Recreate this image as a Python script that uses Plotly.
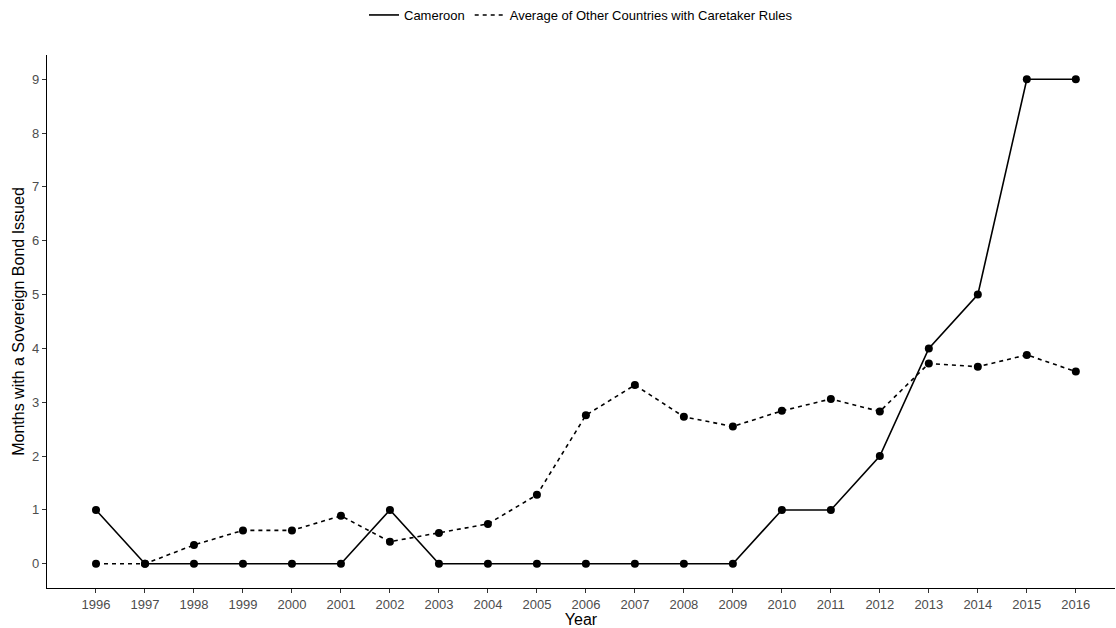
import plotly.graph_objects as go

years = list(range(1996, 2017))
cameroon = [1, 0, 0, 0, 0, 0, 1, 0, 0, 0, 0, 0, 0, 0, 1, 1, 2, 4, 5, 9, 9]
others = [0, 0, 0.35, 0.62, 0.62, 0.89, 0.41, 0.57, 0.74, 1.28, 2.76, 3.32,
          2.73, 2.55, 2.84, 3.06, 2.83, 3.72, 3.66, 3.88, 3.57]
y_ticks = list(range(0, 10))

names = ["Cameroon", "Average of Other Countries with Caretaker Rules"]
dashes = ["solid", "4px,4px"]

fig = go.Figure()
for name, vals, dash in zip(names, [cameroon, others], dashes):
    fig.add_trace(go.Scatter(
        x=years, y=vals, name=name, mode="lines+markers", showlegend=False,
        line=dict(color="black", width=1.6, dash=dash),
        marker=dict(color="black", size=8)))
for name, dash in zip(names, dashes):
    fig.add_trace(go.Scatter(
        x=[None], y=[None], name=name, mode="lines", showlegend=True,
        line=dict(color="black", width=1.6, dash=dash)))

fig.update_layout(
    width=1116, height=628,
    margin=dict(l=47, r=1, t=55, b=35),
    paper_bgcolor="white", plot_bgcolor="white",
    font=dict(family="Liberation Sans, Arial, sans-serif", color="black"),
    showlegend=True,
    legend=dict(orientation="h", x=0.5, xanchor="center", y=1.0, yanchor="top",
                yref="container", font=dict(size=13, color="black"),
                tracegroupgap=0),
    xaxis=dict(range=[1995, 2016.8], tickmode="array", tickvals=years,
               ticktext=[str(y) for y in years],
               showgrid=False, zeroline=False, showline=True, linecolor="black",
               linewidth=1.3, ticks="outside", ticklen=4, tickcolor="#333333",
               tickfont=dict(size=13, color="#4D4D4D"),
               title=dict(text="Year", font=dict(size=16), standoff=4)),
    yaxis=dict(range=[-0.45, 9.45], tickmode="array", tickvals=y_ticks,
               showgrid=False, zeroline=False, showline=True, linecolor="black",
               linewidth=1.3, ticks="outside", ticklen=4, tickcolor="#333333",
               tickfont=dict(size=13, color="#4D4D4D"),
               title=dict(text="Months with a Sovereign Bond Issued",
                          font=dict(size=16), standoff=3)),
)

fig.write_html("out.html")
